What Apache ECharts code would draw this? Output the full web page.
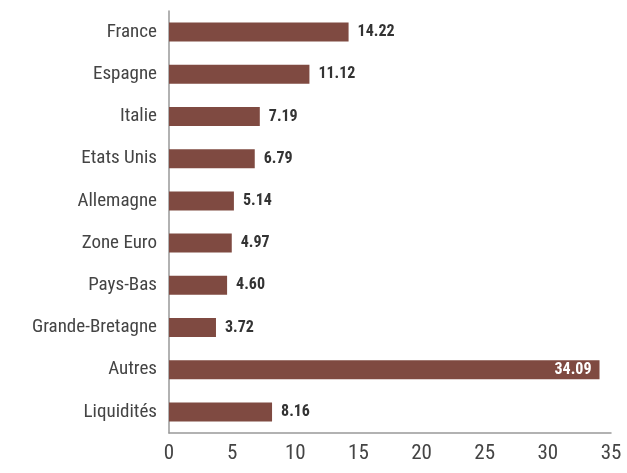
<!DOCTYPE html>
<html>
<head>
<meta charset="UTF-8">
<script src="https://cdn.jsdelivr.net/npm/echarts@6/dist/echarts.min.js"></script>
</head>
<body style="margin:0;">
<div id="container" style="width:627px;height:473px;"></div>
<script type="text/javascript">
var categories = ['France', 'Espagne', 'Italie', 'Etats Unis', 'Allemagne', 'Zone Euro', 'Pays-Bas', 'Grande-Bretagne', 'Autres', 'Liquidités'];
var values = [14.22, 11.12, 7.19, 6.79, 5.14, 4.97, 4.60, 3.72, 34.09, 8.16];
var insideCats = ['Autres'];

var font = '"Roboto Condensed", "DejaVu Sans Condensed", sans-serif';
var myChart = echarts.init(document.getElementById('container'));

// la barre "Autres" garde son libellé à l'intérieur, en blanc
var data = values.map(function (v, i) {
    var inside = insideCats.indexOf(categories[i]) >= 0;
    return {
        value: v,
        label: inside ? { position: 'insideRight', color: '#fff', distance: 8 } : {}
    };
});

var option = {
    animation: false,
    grid: { left: 169, right: 16, top: 11, bottom: 40 },
    xAxis: {
        type: 'value',
        min: 0,
        max: 35,
        interval: 5,
        axisLine: { show: true, lineStyle: { color: '#999', width: 1.5 } },
        axisTick: { show: false },
        splitLine: { show: false },
        axisLabel: { color: '#444', fontSize: 21, fontFamily: font, margin: 10 }
    },
    yAxis: {
        type: 'category',
        inverse: true,
        data: categories,
        axisLine: { show: true, lineStyle: { color: '#999', width: 1.5 } },
        axisTick: { show: false },
        axisLabel: { color: '#444', fontSize: 19, fontFamily: font, margin: 12 }
    },
    series: [{
        type: 'bar',
        data: data,
        barWidth: 19,
        itemStyle: { color: '#7f4a41' },
        label: {
            show: true,
            position: 'right',
            distance: 9,
            color: '#333',
            fontWeight: 'bold',
            fontSize: 16,
            fontFamily: font,
            formatter: function (p) { return p.value.toFixed(2); }
        }
    }]
};
myChart.setOption(option);
</script>
</body>
</html>
